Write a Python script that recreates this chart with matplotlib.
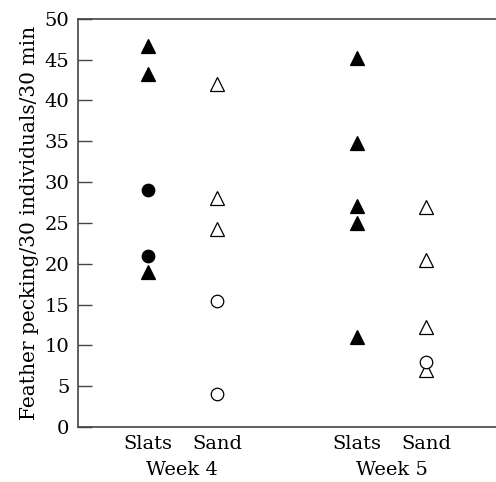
import matplotlib
matplotlib.use("Agg")
import matplotlib.pyplot as plt
import matplotlib.transforms as mtransforms

plt.rcParams['font.family'] = ['DejaVu Serif']

# Data
group_labels = ["Slats", "Sand", "Slats", "Sand"]
group_x = [1, 2, 4, 5]
week_labels = ["Week 4", "Week 5"]
week_x = [1.5, 4.5]

w4_slats_tri = [46.7, 43.3, 19.0]
w4_slats_circ = [29.0, 21.0]
w4_sand_tri = [42.0, 28.0, 24.3]
w4_sand_circ = [15.4, 4.0]
w5_slats_tri = [45.2, 34.8, 27.1, 25.0, 11.0]
w5_sand_tri = [27.0, 20.4, 12.2, 7.0]
w5_sand_circ = [8.0]

fig = plt.figure(figsize=(4.96, 4.82), dpi=100)
ax = fig.add_axes([0.157, 0.114, 0.843, 0.847])

tri_ms = 10
circ_ms = 9
edge = 0.9

def plot(x, ys, marker, filled):
    ax.plot([x] * len(ys), ys, linestyle='none', marker=marker,
            markersize=tri_ms if marker == '^' else circ_ms,
            markerfacecolor='black' if filled else 'white',
            markeredgecolor='black', markeredgewidth=edge, clip_on=False)

plot(group_x[0], w4_slats_tri, '^', True)
plot(group_x[0], w4_slats_circ, 'o', True)
plot(group_x[1], w4_sand_tri, '^', False)
plot(group_x[1], w4_sand_circ, 'o', False)
plot(group_x[2], w5_slats_tri, '^', True)
plot(group_x[3], w5_sand_tri, '^', False)
plot(group_x[3], w5_sand_circ, 'o', False)

ax.set_xlim(0, 6)
ax.set_ylim(0, 50)
ax.set_yticks(range(0, 51, 5))
ax.tick_params(axis='y', direction='in', length=10, width=1.0, pad=6,
               labelsize=14, color='#444444')
ax.set_xticks(group_x)
ax.set_xticklabels(group_labels)
ax.tick_params(axis='x', length=0, pad=6, labelsize=14)

for s in ['top', 'bottom', 'left']:
    ax.spines[s].set_color('#444444')
    ax.spines[s].set_linewidth(1.2)
ax.spines['right'].set_visible(False)

trans = mtransforms.blended_transform_factory(ax.transData, ax.transAxes)
for wx, wl in zip(week_x, week_labels):
    ax.text(wx, -0.105, wl, transform=trans, ha='center', va='center', fontsize=14)

ax.set_ylabel("Feather pecking/30 individuals/30 min", fontsize=14.5, labelpad=4)

fig.savefig("out.png", dpi=100)
